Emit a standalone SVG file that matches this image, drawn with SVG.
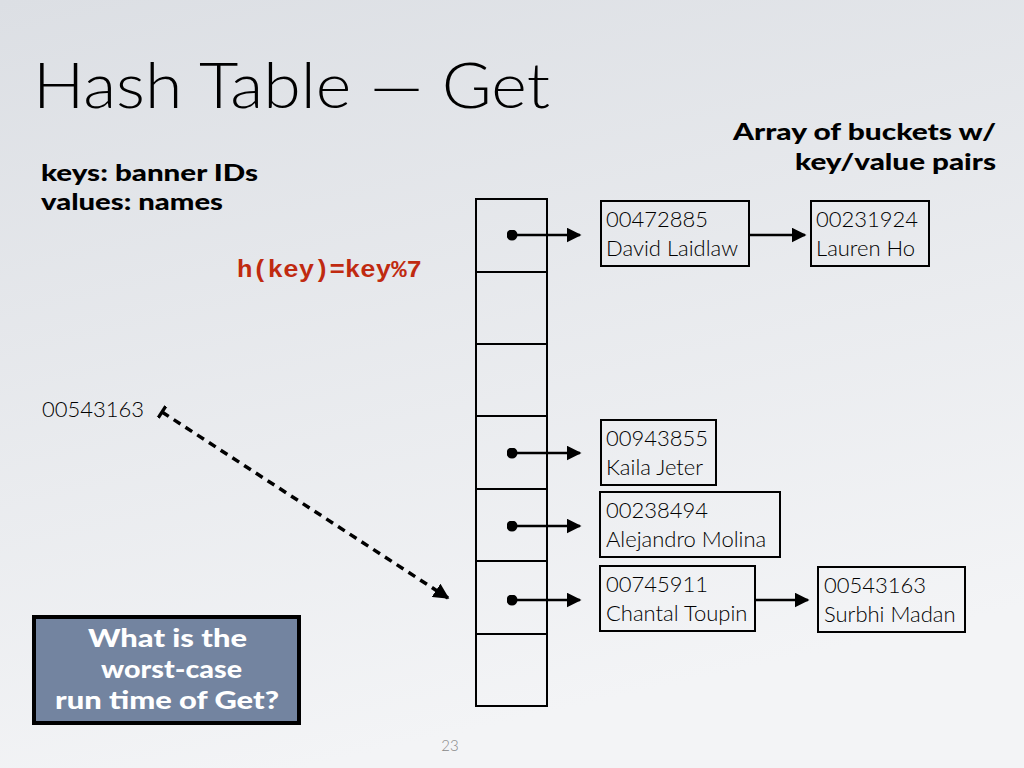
<svg xmlns="http://www.w3.org/2000/svg" width="1024" height="768" viewBox="0 0 1024 768">
<defs>
<linearGradient id="bg" x1="0" y1="0" x2="0.3" y2="1">
<stop offset="0" stop-color="#dcdfe4"/>
<stop offset="1" stop-color="#f3f4f6"/>
</linearGradient>
<marker id="ah" viewBox="0 0 10 10" refX="9" refY="5" markerWidth="6" markerHeight="6" markerUnits="strokeWidth" orient="auto">
<path d="M0,0 L10,5 L0,10 z" fill="#000"/>
</marker>
<marker id="ahd" viewBox="0 0 10 10" refX="9" refY="5" markerWidth="4.5" markerHeight="4.5" markerUnits="strokeWidth" orient="auto">
<path d="M0,0 L10,5 L0,10 z" fill="#000"/>
</marker>
<marker id="dot" viewBox="0 0 10 10" refX="5" refY="5" markerWidth="4.4" markerHeight="4.4" markerUnits="strokeWidth">
<circle cx="5" cy="5" r="5" fill="#000"/>
</marker>
<marker id="tee" viewBox="0 0 10 10" refX="5" refY="5" markerWidth="4" markerHeight="4" markerUnits="strokeWidth" orient="auto">
<path d="M5,0 L5,10" stroke="#000" stroke-width="2.4"/>
</marker>
</defs>
<style>
.lite{font-family:Lato,"Open Sans",sans-serif;font-weight:300;fill:#000}
.bold{font-family:Lato,"Open Sans",sans-serif;font-weight:900;fill:#000}
.box{fill:none;stroke:#000;stroke-width:2}
.cell{fill:none;stroke:#000;stroke-width:2}
.ptr{stroke:#000;stroke-width:2.5;fill:none}
.bt{font-family:Lato,"Open Sans",sans-serif;font-weight:300;font-size:22px;fill:#000}
.q{font-family:Lato,"Open Sans",sans-serif;font-weight:900;font-size:24px;fill:#fff}
</style>
<rect x="0" y="0" width="1024" height="768" fill="url(#bg)"/>
<text class="lite" x="33" y="108" font-size="64" textLength="517" lengthAdjust="spacingAndGlyphs">Hash Table — Get</text>
<text class="bold" x="41" y="181" font-size="22" textLength="217" lengthAdjust="spacingAndGlyphs">keys: banner IDs</text>
<text class="bold" x="41" y="210" font-size="22" textLength="182" lengthAdjust="spacingAndGlyphs">values: names</text>
<text class="bold" x="733" y="140" font-size="22" textLength="263" lengthAdjust="spacingAndGlyphs">Array of buckets w/</text>
<text class="bold" x="795" y="170" font-size="22" textLength="201" lengthAdjust="spacingAndGlyphs">key/value pairs</text>
<text x="237" y="277" font-family="'Liberation Mono',monospace" font-weight="700" font-size="23" fill="#c02a10" textLength="185" lengthAdjust="spacingAndGlyphs">h(key)=key%7</text>
<text class="bt" x="42" y="417" font-size="21">00543163</text>
<g id="array">
<rect class="cell" x="476" y="199" width="71" height="507"/>
<line class="cell" x1="476" y1="272" x2="547" y2="272"/>
<line class="cell" x1="476" y1="344" x2="547" y2="344"/>
<line class="cell" x1="476" y1="416" x2="547" y2="416"/>
<line class="cell" x1="476" y1="489" x2="547" y2="489"/>
<line class="cell" x1="476" y1="561" x2="547" y2="561"/>
<line class="cell" x1="476" y1="634" x2="547" y2="634"/>
</g>
<g id="n1"><rect class="box" x="601" y="201" width="148" height="65"/><text class="bt" x="606" y="227">00472885</text><text class="bt" x="606" y="256">David Laidlaw</text></g>
<g id="n2"><rect class="box" x="811" y="201" width="118" height="65"/><text class="bt" x="816" y="227">00231924</text><text class="bt" x="816" y="256">Lauren Ho</text></g>
<g id="n3"><rect class="box" x="601" y="420" width="115" height="65"/><text class="bt" x="606" y="446">00943855</text><text class="bt" x="606" y="475">Kaila Jeter</text></g>
<g id="n4"><rect class="box" x="600" y="492" width="180" height="65"/><text class="bt" x="606" y="518">00238494</text><text class="bt" x="606" y="547">Alejandro Molina</text></g>
<g id="n5"><rect class="box" x="600" y="566" width="155" height="65"/><text class="bt" x="606" y="592">00745911</text><text class="bt" x="606" y="621">Chantal Toupin</text></g>
<g id="n6"><rect class="box" x="818" y="567" width="147" height="65"/><text class="bt" x="824" y="593">00543163</text><text class="bt" x="824" y="622">Surbhi Madan</text></g>
<g id="connectors">
<line class="ptr" x1="512" y1="235" x2="580" y2="235" marker-start="url(#dot)" marker-end="url(#ah)"/>
<line class="ptr" x1="512" y1="453" x2="580" y2="453" marker-start="url(#dot)" marker-end="url(#ah)"/>
<line class="ptr" x1="512" y1="526" x2="580" y2="526" marker-start="url(#dot)" marker-end="url(#ah)"/>
<line class="ptr" x1="512" y1="600" x2="580" y2="600" marker-start="url(#dot)" marker-end="url(#ah)"/>
<line class="ptr" x1="750" y1="235" x2="805" y2="235" marker-end="url(#ah)"/>
<line class="ptr" x1="755" y1="600" x2="808" y2="600" marker-end="url(#ah)"/>
<line x1="162" y1="412" x2="448" y2="598" stroke="#000" stroke-width="3.5" stroke-dasharray="8,6" marker-start="url(#tee)" marker-end="url(#ahd)"/>
</g>
<g id="question">
<rect x="34" y="617" width="265" height="106" fill="#7384a0" stroke="#000" stroke-width="4"/>
<text class="q" x="88" y="647" textLength="159" lengthAdjust="spacingAndGlyphs">What is the</text>
<text class="q" x="101" y="678" textLength="141" lengthAdjust="spacingAndGlyphs">worst-case</text>
<text class="q" x="55" y="709" textLength="224" lengthAdjust="spacingAndGlyphs">run time of Get?</text>
</g>
<text x="450" y="751" font-family="Lato,sans-serif" font-weight="300" font-size="15" fill="#888" text-anchor="middle">23</text>
</svg>
